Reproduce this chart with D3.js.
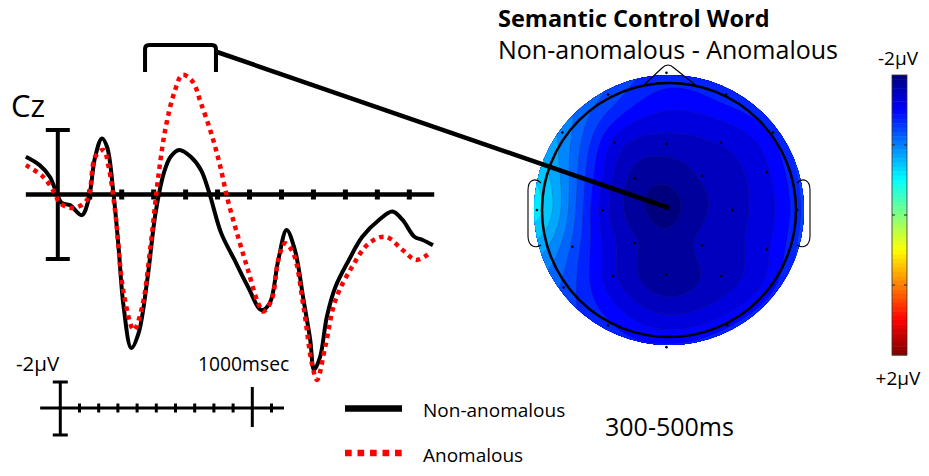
<!DOCTYPE html>
<html>
<head>
<meta charset="utf-8">
<script src="https://cdn.jsdelivr.net/npm/d3@7"></script>
<style>
body{margin:0;background:#fff;}
text{font-family:"Open Sans",sans-serif;fill:#000;}
</style>
</head>
<body>
<svg id="chart" width="929" height="476"></svg>
<script>
// ERP at Cz, time in ms, amplitude in microvolts (negative plotted up)
var nonAnomTime = [-100,-57,-25,-4,12,38,75,96,117,138,154,174,190,206,230,253,280,306,332,353,380,416,448,474,511,553,595,637,663,690,716,742,769,790,802,821,842,869,911,953,1005,1047,1079,1116,1142,1174];
var nonAnomUv   = [-1.17,-0.91,-0.55,-0.05,0.26,0.33,0.64,0.17,-1.17,-1.74,-1.48,-0.05,1.62,3.48,4.76,4.29,2.65,0.57,-0.67,-1.17,-1.38,-1.17,-0.76,-0.05,1.19,2.03,2.86,3.58,3.37,2.03,1.10,1.72,3.27,4.51,5.44,5.03,3.79,2.86,2.03,1.31,0.79,0.53,0.79,1.31,1.41,1.57];

var anomTime = [-100,-46,-10,6,48,91,117,143,159,180,206,238,264,290,316,338,364,390,422,448,480,506,532,564,595,627,643,669,690,711,737,769,795,811,837,869,921,974,1026,1079,1121,1158];
var anomUv   = [-0.91,-0.55,-0.05,0.26,0.42,0.17,-1.17,-1.38,-0.86,0.57,3.05,4.20,3.48,1.62,-0.67,-2.10,-3.14,-3.71,-3.50,-2.83,-1.90,-0.97,0.17,1.31,2.34,3.37,3.63,3.27,2.03,1.51,1.82,3.48,5.23,5.75,4.72,3.27,2.24,1.51,1.31,1.72,2.03,1.86];

var axisTicksMs = [100,200,300,400,500,600,700,800,900,1000,1100];
var windowMs = [273,495];
var calibTicksMs = [100,200,300,400,500,600,700,800,900,1100];

// topography electrodes, head units (radius 1), values in microvolts
var elecX  = [-0.02,-0.48,0.45,-0.84,-0.43,-0.02,0.41,0.82,-0.27,0.26,0.77,-1.04,-0.52,-0.02,0.50,1.01,-0.76,-0.27,0.26,0.77,-0.44,-0.02,0.41,-0.83,0.81,-0.48,0.46,-0.02];
var elecY  = [-1.08,-0.91,-0.91,-0.61,-0.53,-0.52,-0.53,-0.61,-0.25,-0.27,-0.30,0.00,0.00,-0.02,0.00,0.00,0.29,0.26,0.28,0.31,0.52,0.51,0.52,0.61,0.59,0.91,0.91,1.08];
var elecUv = [-1.35,-1.20,-1.35,-0.95,-1.60,-1.75,-1.68,-1.40,-1.86,-1.80,-1.58,-0.60,-1.62,-2.00,-1.74,-1.35,-1.20,-1.80,-1.78,-1.58,-1.66,-1.92,-1.76,-1.20,-1.48,-1.40,-1.45,-1.40];

var svg = d3.select("#chart");

var x = d3.scaleLinear().domain([-100,1200]).range([25.85,441.25]);
var y = d3.scaleLinear().domain([-2,2]).range([130,259]);

// jet colour map
var jet = d3.scaleLinear()
  .domain([-2,-1.5,-0.5,0.5,1.5,2])
  .range(["#00007f","#0000ff","#00ffff","#ffff00","#ff0000","#7f0000"])
  .clamp(true);

// ---------- topographic map ----------
var cx = 669, cy = 210, headR = 127, plotR = 135;
var hx = d3.scaleLinear().domain([-1,1]).range([cx-headR,cx+headR]);
var hy = d3.scaleLinear().domain([-1,1]).range([cy-headR,cy+headR]);

function green(r){ return r > 0 ? r*r*(Math.log(r)-1) : 0; }

function solve(A,b){
  var n = b.length;
  for(var k = 0 ; k < n ; k++){
    var p = k;
    for(var i = k+1 ; i < n ; i++){ if(Math.abs(A[i][k]) > Math.abs(A[p][k])) p = i; }
    var tmp = A[k]; A[k] = A[p]; A[p] = tmp;
    var tb = b[k]; b[k] = b[p]; b[p] = tb;
    for(var i = k+1 ; i < n ; i++){
      var f = A[i][k]/A[k][k];
      for(var j = k ; j < n ; j++) A[i][j] -= f*A[k][j];
      b[i] -= f*b[k];
    }
  }
  var w = new Array(n);
  for(var i = n-1 ; i >= 0 ; i--){
    var s = b[i];
    for(var j = i+1 ; j < n ; j++) s -= A[i][j]*w[j];
    w[i] = s/A[i][i];
  }
  return w;
}

var G = elecX.map(function(xi,i){
  return elecX.map(function(xj,j){ return green(Math.hypot(xi-xj, elecY[i]-elecY[j])); });
});
var wts = solve(G, elecUv.slice());

var n = 2*plotR + 1;
var grid = new Array(n*n);
for(var j = 0 ; j < n ; j++){
  for(var i = 0 ; i < n ; i++){
    var nx = hx.invert(cx-plotR+i), ny = hy.invert(cy-plotR+j);
    var s = 0;
    for(var k = 0 ; k < wts.length ; k++) s += wts[k]*green(Math.hypot(nx-elecX[k], ny-elecY[k]));
    grid[j*n+i] = s;
  }
}

var step = 0.13;
var thr = d3.range(-2.6, 0.6, step);
var contours = d3.contours().size([n,n]).thresholds(thr)(grid);

svg.append("clipPath").attr("id","disk")
  .append("circle").attr("cx",plotR+0.5).attr("cy",plotR+0.5).attr("r",plotR);

var topo = svg.append("g")
  .attr("transform","translate(" + (cx-plotR-0.5) + "," + (cy-plotR-0.5) + ")")
  .attr("clip-path","url(#disk)");

topo.selectAll("path")
  .data(contours)
  .enter().append("path")
  .attr("d", d3.geoPath())
  .style("fill", function(d){ return jet(d.value + step/2); })
  .style("stroke", function(d,i){ return i == 0 ? "none" : "#333"; })
  .style("stroke-width", 0.5)
  .style("stroke-opacity", 0.4);

// head outline, nose, ears
svg.append("circle").attr("cx",cx).attr("cy",cy).attr("r",headR)
  .style("fill","none").style("stroke","#000").style("stroke-width",2.5);

svg.append("path")
  .attr("d","M645,84 L662,68 Q668,62 674,68 L698,87")
  .style("fill","none").style("stroke","#000").style("stroke-width",1.1);

svg.append("path")
  .attr("d","M541,183 C535,177 528,180 528,190 L528,236 C528,246 535,249 541,245")
  .style("fill","none").style("stroke","#000").style("stroke-width",1.1);
svg.append("path")
  .attr("d","M797,183 C803,177 810,180 810,190 L810,236 C810,246 803,249 797,245")
  .style("fill","none").style("stroke","#000").style("stroke-width",1.1);

svg.selectAll(".elec")
  .data(elecX)
  .enter().append("circle")
  .attr("class","elec")
  .attr("cx",function(d){ return hx(d); })
  .attr("cy",function(d,i){ return hy(elecY[i]); })
  .attr("r",1.3)
  .style("fill","#000");

// ---------- colour bar ----------
var cb = d3.scaleLinear().domain([-2,2]).range([75,355]);
var cbSteps = d3.range(-2, 2, 4/64);
svg.selectAll(".cb")
  .data(cbSteps)
  .enter().append("rect")
  .attr("class","cb")
  .attr("x",892).attr("width",15)
  .attr("y",function(d){ return cb(d); })
  .attr("height",cb(4/64)-cb(0)+0.5)
  .style("fill",function(d){ return jet(d + 2/64); });
svg.append("rect").attr("x",892).attr("y",75).attr("width",15).attr("height",280)
  .style("fill","none").style("stroke","#333").style("stroke-width",0.8);
[-1,0,1].forEach(function(v){
  svg.append("line").attr("x1",892).attr("x2",895).attr("y1",cb(v)).attr("y2",cb(v)).style("stroke","#222");
  svg.append("line").attr("x1",904).attr("x2",907).attr("y1",cb(v)).attr("y2",cb(v)).style("stroke","#222");
});
svg.append("text").attr("x",898).attr("y",65).attr("text-anchor","middle").style("font-size","19px").text("-2\u03bcV");
svg.append("text").attr("x",898).attr("y",385).attr("text-anchor","middle").style("font-size","19px").text("+2\u03bcV");

// ---------- titles ----------
svg.append("text").attr("x",498).attr("y",27).style("font-size","23.5px").style("font-weight","bold").text("Semantic Control Word");
svg.append("text").attr("x",498).attr("y",59).style("font-size","25px").text("Non-anomalous - Anomalous");

// ---------- ERP plot ----------
svg.append("text").attr("x",11).attr("y",117).style("font-size","31px").text("Cz");

// amplitude scale bar
svg.append("line").attr("x1",x(0)).attr("x2",x(0)).attr("y1",y(-2)).attr("y2",y(2)).style("stroke","#000").style("stroke-width",4);
[-2,2].forEach(function(v){
  svg.append("line").attr("x1",x(0)-12).attr("x2",x(0)+12).attr("y1",y(v)).attr("y2",y(v)).style("stroke","#000").style("stroke-width",4);
});

// zero line with ticks
svg.append("line").attr("x1",x(-100)).attr("x2",x(1178)).attr("y1",y(0)).attr("y2",y(0)).style("stroke","#000").style("stroke-width",4.5);
svg.selectAll(".tk")
  .data(axisTicksMs)
  .enter().append("rect")
  .attr("class","tk")
  .attr("x",function(d){ return x(d)-2.5; })
  .attr("y",y(0)-5)
  .attr("width",5).attr("height",10)
  .style("fill","#000");

// bracket for time window
svg.append("path")
  .attr("d","M" + x(windowMs[0]) + ",72 L" + x(windowMs[0]) + ",49 Q" + x(windowMs[0]) + ",45 " + (x(windowMs[0])+4) + ",45 L" + (x(windowMs[1])-4) + ",45 Q" + x(windowMs[1]) + ",45 " + x(windowMs[1]) + ",49 L" + x(windowMs[1]) + ",72")
  .style("fill","none").style("stroke","#000").style("stroke-width",4);

var line = d3.line()
  .x(function(d){ return x(d[0]); })
  .y(function(d){ return y(d[1]); })
  .curve(d3.curveCatmullRom.alpha(0.5));

svg.append("path")
  .datum(d3.zip(nonAnomTime, nonAnomUv))
  .attr("d", line)
  .style("fill","none").style("stroke","#000").style("stroke-width",4).style("stroke-linejoin","round");

svg.append("path")
  .datum(d3.zip(anomTime, anomUv))
  .attr("d", line)
  .style("fill","none").style("stroke","#ff0000").style("stroke-width",4.5).style("stroke-dasharray","4.5,4.5");

// pointer from window to the map
svg.append("line").attr("x1",x(windowMs[1])+1).attr("y1",52).attr("x2",cx).attr("y2",cy-2)
  .style("stroke","#000").style("stroke-width",4.5);

// ---------- calibration ----------
var cx2 = d3.scaleLinear().domain([0,1000]).range([60.3,252.3]);
svg.append("line").attr("x1",cx2(-105)).attr("x2",cx2(1165)).attr("y1",408).attr("y2",408).style("stroke","#000").style("stroke-width",3);
svg.append("line").attr("x1",cx2(0)).attr("x2",cx2(0)).attr("y1",382).attr("y2",435).style("stroke","#000").style("stroke-width",3);
[382,435].forEach(function(v){
  svg.append("line").attr("x1",cx2(0)-7.5).attr("x2",cx2(0)+7.5).attr("y1",v).attr("y2",v).style("stroke","#000").style("stroke-width",3);
});
svg.selectAll(".ctk")
  .data(calibTicksMs)
  .enter().append("line")
  .attr("class","ctk")
  .attr("x1",function(d){ return cx2(d); }).attr("x2",function(d){ return cx2(d); })
  .attr("y1",403.5).attr("y2",412.5)
  .style("stroke","#000").style("stroke-width",3);
svg.append("line").attr("x1",cx2(1000)).attr("x2",cx2(1000)).attr("y1",387).attr("y2",427).style("stroke","#000").style("stroke-width",3);
svg.append("text").attr("x",16).attr("y",371).style("font-size","20.5px").text("-2\u03bcV");
svg.append("text").attr("x",198).attr("y",371).style("font-size","19.3px").text("1000msec");

// ---------- legend ----------
svg.append("line").attr("x1",345).attr("x2",402).attr("y1",408.5).attr("y2",408.5).style("stroke","#000").style("stroke-width",6.5);
svg.append("line").attr("x1",345).attr("x2",402).attr("y1",453).attr("y2",453).style("stroke","#ff0000").style("stroke-width",6.5).style("stroke-dasharray","6.7,5.8");
svg.append("text").attr("x",423).attr("y",417).style("font-size","19px").text("Non-anomalous");
svg.append("text").attr("x",423).attr("y",462).style("font-size","19px").text("Anomalous");
svg.append("text").attr("x",605).attr("y",436).style("font-size","25px").text("300-500ms");
</script>
</body>
</html>
